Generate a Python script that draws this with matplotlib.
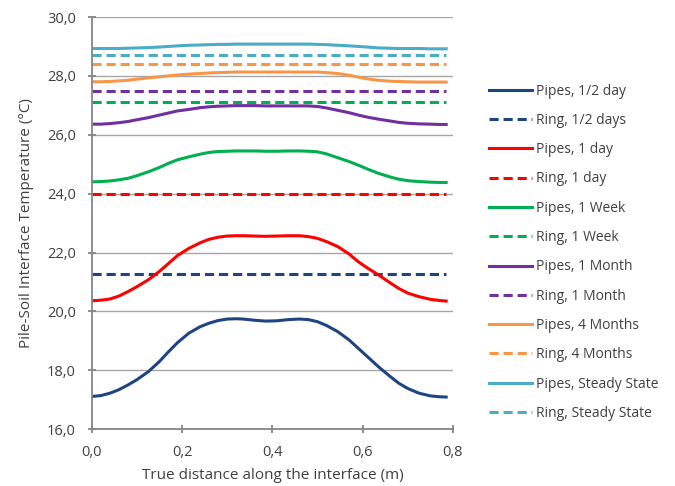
import matplotlib
matplotlib.use("Agg")
import matplotlib.pyplot as plt
from matplotlib.ticker import FuncFormatter, MultipleLocator

plt.rcParams['font.family'] = ['Open Sans', 'DejaVu Sans']

# distance along the interface (m)
x = [0, 0.02, 0.04, 0.06, 0.08, 0.10, 0.125, 0.15, 0.17, 0.19,
     0.215, 0.24, 0.26, 0.28, 0.30, 0.32, 0.335, 0.36, 0.385, 0.41,
     0.435, 0.46, 0.48, 0.50, 0.52, 0.545, 0.57, 0.59, 0.61, 0.635,
     0.66, 0.68, 0.70, 0.725, 0.75, 0.77, 0.785]
x_ring = [0, 0.785]

pipes_half_day = [17.11, 17.14, 17.22, 17.34, 17.50, 17.68, 17.95, 18.30, 18.63, 18.94,
                  19.26, 19.48, 19.60, 19.69, 19.74, 19.75, 19.74, 19.70, 19.67, 19.68,
                  19.72, 19.74, 19.72, 19.65, 19.52, 19.31, 19.03, 18.75, 18.47, 18.12,
                  17.80, 17.56, 17.38, 17.22, 17.13, 17.10, 17.09]
pipes_1_day = [20.36, 20.38, 20.42, 20.52, 20.67, 20.84, 21.07, 21.36, 21.63, 21.90,
               22.14, 22.33, 22.45, 22.52, 22.56, 22.57, 22.57, 22.56, 22.55, 22.56,
               22.57, 22.57, 22.54, 22.48, 22.37, 22.20, 21.95, 21.69, 21.48, 21.24,
               20.98, 20.78, 20.62, 20.50, 20.41, 20.37, 20.35]
pipes_1_week = [24.40, 24.41, 24.43, 24.47, 24.52, 24.61, 24.74, 24.89, 25.03, 25.15,
                25.25, 25.34, 25.40, 25.43, 25.44, 25.45, 25.45, 25.45, 25.44, 25.44,
                25.45, 25.45, 25.44, 25.42, 25.35, 25.22, 25.09, 24.97, 24.84, 24.69,
                24.57, 24.49, 24.44, 24.41, 24.39, 24.38, 24.38]
pipes_1_month = [26.36, 26.36, 26.38, 26.41, 26.45, 26.51, 26.58, 26.67, 26.74, 26.81,
                 26.86, 26.92, 26.95, 26.97, 26.98, 26.99, 26.99, 26.99, 26.98, 26.98,
                 26.98, 26.98, 26.98, 26.96, 26.91, 26.83, 26.75, 26.67, 26.60, 26.53,
                 26.47, 26.42, 26.39, 26.37, 26.36, 26.35, 26.35]
pipes_4_months = [27.80, 27.80, 27.81, 27.83, 27.85, 27.89, 27.93, 27.97, 28.00, 28.03,
                  28.06, 28.08, 28.10, 28.11, 28.12, 28.13, 28.13, 28.13, 28.13, 28.13,
                  28.13, 28.13, 28.13, 28.13, 28.11, 28.08, 28.02, 27.96, 27.90, 27.85,
                  27.82, 27.81, 27.80, 27.79, 27.79, 27.79, 27.79]
pipes_steady = [28.93, 28.93, 28.93, 28.93, 28.94, 28.95, 28.96, 28.98, 29.00, 29.02,
                29.04, 29.05, 29.06, 29.07, 29.07, 29.08, 29.08, 29.08, 29.08, 29.08,
                29.08, 29.08, 29.08, 29.07, 29.06, 29.04, 29.02, 29.00, 28.98, 28.95,
                28.94, 28.93, 28.93, 28.93, 28.92, 28.92, 28.92]

ring_values = [21.27, 23.98, 27.10, 27.48, 28.42, 28.72]

pipes = [pipes_half_day, pipes_1_day, pipes_1_week, pipes_1_month, pipes_4_months, pipes_steady]
pipe_labels = ["Pipes, 1/2 day", "Pipes, 1 day", "Pipes, 1 Week", "Pipes, 1 Month",
               "Pipes, 4 Months", "Pipes, Steady State"]
ring_labels = ["Ring, 1/2 days", "Ring, 1 day", "Ring, 1 Week", "Ring, 1 Month",
               "Ring, 4 Months", "Ring, Steady State"]
colors = ["#1F4580", "#FF0000", "#00B050", "#7030A0", "#F79646", "#4BACC6"]

fig = plt.figure(figsize=(6.75, 4.86), dpi=100)
ax = fig.add_axes([0.136, 0.117, 0.535, 0.848])

for p, r, pl, rl, c in zip(pipes, ring_values, pipe_labels, ring_labels, colors):
    ax.plot(x, p, color=c, lw=2.2, label=pl, solid_joinstyle='round')
    ax.plot(x_ring, [r, r], color=c, lw=2.2, dashes=(3, 1.6), label=rl)

ax.set_xlim(0, 0.8)
ax.set_ylim(16, 30)
ax.xaxis.set_major_locator(MultipleLocator(0.2))
ax.yaxis.set_major_locator(MultipleLocator(2))
fmt = FuncFormatter(lambda v, pos: f"{v:.1f}".replace(".", ","))
ax.xaxis.set_major_formatter(fmt)
ax.yaxis.set_major_formatter(fmt)

ax.grid(axis='y', color='#A6A6A6', lw=1)
ax.set_axisbelow(True)
for s in ['top', 'right']:
    ax.spines[s].set_visible(False)
for s in ['left', 'bottom']:
    ax.spines[s].set_color('#868686')
    ax.spines[s].set_linewidth(1.3)
ax.tick_params(direction='inout', length=6, width=1.3, color='#868686',
               labelsize=10.5, labelcolor='#404040', pad=8.5)

ax.set_xlabel("True distance along the interface (m)", fontsize=11, color='#404040', labelpad=6)
ax.set_ylabel("Pile-Soil Interface Temperature (°C)", fontsize=11, color='#404040', labelpad=9)

leg = fig.legend(loc='center left', bbox_to_anchor=(0.724, 0.481), frameon=False,
                 fontsize=10, handlelength=3.1, handletextpad=0.3, labelspacing=1.03,
                 borderpad=0, borderaxespad=0)
for t in leg.get_texts():
    t.set_color('#404040')

fig.savefig("out.png", dpi=100)
